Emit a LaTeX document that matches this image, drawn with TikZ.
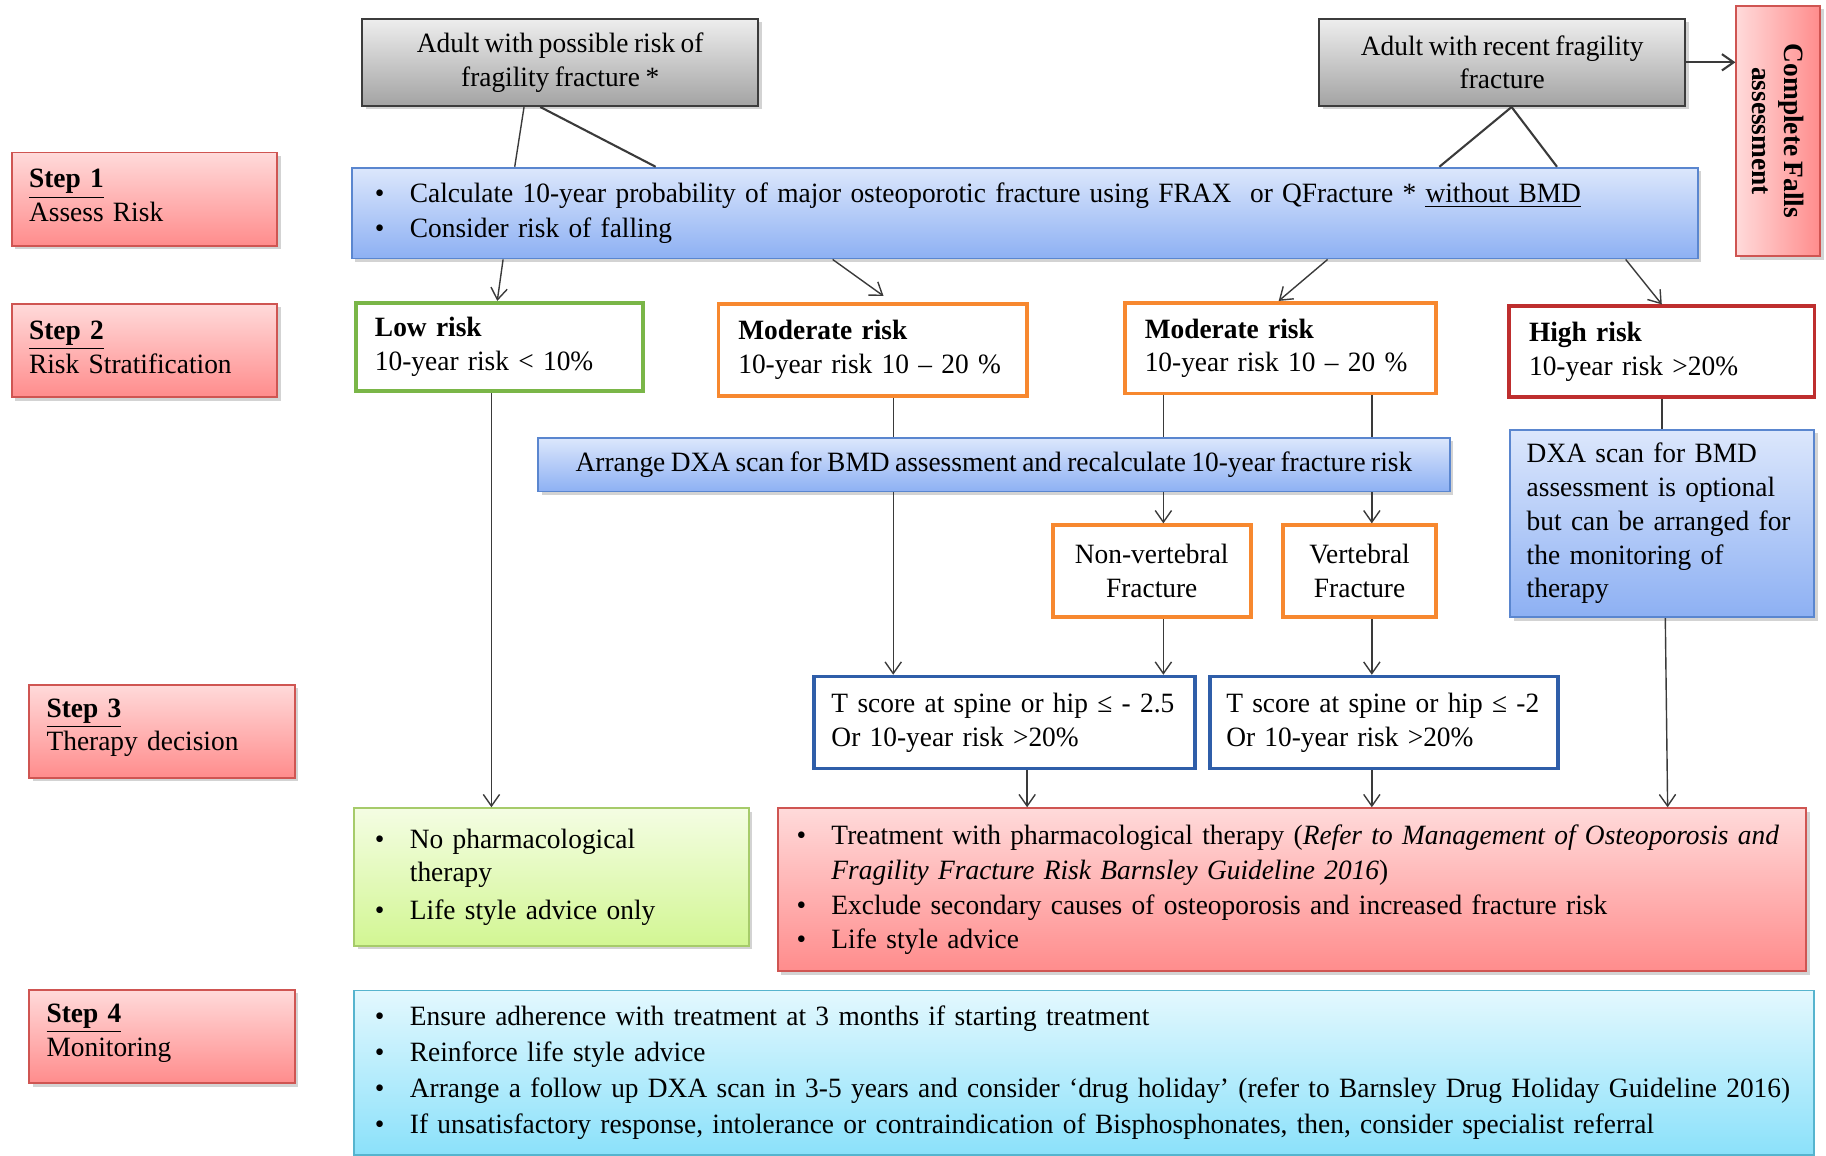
\documentclass[tikz,border=0pt]{standalone}
\usepackage{fontspec}
\setmainfont{Liberation Serif}[WordSpace=0.8,FakeStretch=0.98]
\usepackage{xcolor}
\usetikzlibrary{shadows,arrows.meta}

\definecolor{greytop}{HTML}{EEEEEE}
\definecolor{greybot}{HTML}{A3A3A3}
\definecolor{boxgrey}{HTML}{3C3C3C}
\definecolor{pinktop}{HTML}{FFDADA}
\definecolor{pinkbot}{HTML}{FF8C8C}
\definecolor{stepline}{HTML}{CF5552}
\definecolor{bluetop}{HTML}{DCE7FC}
\definecolor{bluebot}{HTML}{8DB0F3}
\definecolor{blueline}{HTML}{5A86CF}
\definecolor{greentop}{HTML}{F4FDE3}
\definecolor{greenbot}{HTML}{D2F693}
\definecolor{greenline}{HTML}{A6CB6A}
\definecolor{cyantop}{HTML}{E3F8FE}
\definecolor{cyanbot}{HTML}{8BE1FA}
\definecolor{cyanline}{HTML}{56B4CE}
\definecolor{lowgreen}{HTML}{7AB648}
\definecolor{modorange}{HTML}{F7882F}
\definecolor{highred}{HTML}{BE2E2E}
\definecolor{tblue}{HTML}{2F5EA9}
\definecolor{linkgrey}{HTML}{3A3A3A}

\newcommand{\bul}{\noindent\hangindent=15pt\hangafter=1\makebox[15pt][l]{\textbullet}}
\newcommand{\liftby}[1]{\par\vspace{#1}}

\begin{document}
\begin{tikzpicture}[x=0.5pt,y=-0.5pt,
  every node/.style={font=\fontsize{12}{14.5}\selectfont},
  lift/.style={execute at end node={\liftby{#1}}},
  soft/.style={drop shadow={shadow xshift=1.5pt,shadow yshift=-1.5pt,opacity=0.35}},
  greybox/.style={draw=boxgrey,line width=0.9pt,top color=greytop,bottom color=greybot,soft,align=center,minimum height=37.5pt},
  stepbox/.style={draw=stepline,line width=0.8pt,top color=pinktop,bottom color=pinkbot,soft,minimum width=114pt,minimum height=40pt,text width=99pt,inner xsep=7.5pt,align=left,lift=3pt},
  bluebox/.style={draw=blueline,line width=0.8pt,top color=bluetop,bottom color=bluebot,soft},
  riskbox/.style={draw=#1,line width=1.6pt,fill=white,minimum height=39pt,inner xsep=8.5pt,align=left},
  link/.style={draw=linkgrey,line width=0.6pt},
  arr/.style={link,-{Straight Barb[length=5pt,width=7pt]}}]
\useasboundingbox (0,0) rectangle (1568,992);

\node[greybox,minimum width=170pt] (adult) at (481,53.5) {Adult with possible risk of\\fragility fracture *};
\node[greybox,minimum width=157pt] (recent) at (1290,53.5) {Adult with recent fragility\\fracture};
\node[draw=stepline,line width=0.8pt,left color=pinktop,right color=pinkbot,soft,rotate=-90,
  minimum width=107.5pt,minimum height=36pt,align=center,
  font=\bfseries\fontsize{12}{13.5}\selectfont] (falls) at (1527,112.5) {Complete Falls\\assessment};

\node[stepbox] (step1) at (124,171) {\textbf{\underline{Step 1}}\\Assess Risk};
\node[stepbox] (step2) at (124,301) {\textbf{\underline{Step 2}}\\Risk Stratification};
\node[stepbox] (step3) at (139,628) {\textbf{\underline{Step 3}}\\Therapy decision};
\node[stepbox] (step4) at (139,890) {\textbf{\underline{Step 4}}\\Monitoring};

\node[bluebox,minimum height=39pt,text width=558pt,inner xsep=10pt,align=left,
  font=\fontsize{12}{15}\selectfont] (calc) at (880,183)
  {\bul Calculate 10-year probability of major osteoporotic fracture using FRAX\ \ or QFracture * \underline{without BMD}\par\bul Consider risk of falling};

\node[riskbox=lowgreen,minimum height=38pt,text width=107pt,inner xsep=8pt] (low) at (429,298) {\textbf{Low risk}\\10-year risk < 10\%};
\node[riskbox=modorange,minimum height=39.5pt,text width=115.5pt] (mod1) at (749.5,300.5) {\textbf{Moderate risk}\\10-year risk 10 – 20 \%};
\node[riskbox=modorange,text width=116.5pt] (mod2) at (1099.5,299) {\textbf{Moderate risk}\\10-year risk 10 – 20 \%};
\node[riskbox=highred,text width=114pt] (high) at (1427,302) {\textbf{High risk}\\10-year risk >20\%};

\node[bluebox,minimum width=391.5pt,minimum height=23pt] (dxa) at (853.5,399) {Arrange DXA scan for BMD assessment and recalculate 10-year fracture risk};
\node[bluebox,minimum height=80.5pt,text width=116.5pt,inner xsep=7pt,align=left] (dxaopt) at (1427.5,449.5)
  {DXA scan for BMD\\assessment is optional\\but can be arranged for\\the monitoring of\\therapy};

\node[riskbox=modorange,minimum width=85pt,minimum height=39.5pt,inner xsep=4pt,align=center] (nonvert) at (989,490.5) {Non-vertebral\\Fracture};
\node[riskbox=modorange,minimum width=65.5pt,minimum height=39.5pt,inner xsep=4pt,align=center] (vert) at (1167.5,490.5) {Vertebral\\Fracture};

\node[riskbox=tblue,minimum height=39.5pt,text width=148.5pt,inner xsep=7.5pt] (tone) at (862.5,620.5) {T score at spine or hip ≤ - 2.5\\Or 10-year risk >20\%};
\node[riskbox=tblue,minimum height=39.5pt,text width=135.5pt,inner xsep=7pt] (ttwo) at (1188.5,620.5) {T score at spine or hip ≤ -2\\Or 10-year risk >20\%};

\node[draw=greenline,line width=0.8pt,top color=greentop,bottom color=greenbot,soft,
  minimum height=59pt,text width=151.5pt,inner xsep=9pt,align=left,
  font=\fontsize{12}{14.5}\selectfont] (nopharm) at (473.5,753)
  {\bul No pharmacological\newline therapy\par\vspace{1.5pt}\bul Life style advice only};
\node[draw=stepline,line width=0.8pt,top color=pinktop,bottom color=pinkbot,soft,
  minimum height=70pt,text width=425.5pt,inner xsep=8pt,align=left,
  font=\fontsize{12}{15}\selectfont] (treat) at (1109.5,764)
  {\bul Treatment with pharmacological therapy (\textit{Refer to Management of Osteoporosis and\newline Fragility Fracture Risk Barnsley Guideline 2016})\par
   \bul Exclude secondary causes of osteoporosis and increased fracture risk\par
   \bul Life style advice};
\node[draw=cyanline,line width=0.8pt,top color=cyantop,bottom color=cyanbot,
  minimum height=70.5pt,text width=609pt,inner xsep=9pt,align=left,
  font=\fontsize{12}{15.5}\selectfont] (monitor) at (931,921)
  {\bul Ensure adherence with treatment at 3 months if starting treatment\par
   \bul Reinforce life style advice\par
   \bul Arrange a follow up DXA scan in 3-5 years and consider ‘drug holiday’ (refer to Barnsley Drug Holiday Guideline 2016)\par
   \bul If unsatisfactory response, intolerance or contraindication of Bisphosphonates, then, consider specialist referral};

\draw[link] (adult.south -| 450,0) -- (calc.north -| 442,0);
\draw[link,line width=0.9pt] (adult.south -| 464,0) -- (calc.north -| 563,0);
\draw[link,line width=0.9pt] (recent.south -| 1298,0) -- (calc.north -| 1236,0);
\draw[link,line width=0.9pt] (recent.south -| 1298,0) -- (calc.north -| 1337,0);
\draw[arr,line width=0.9pt] (recent.east) -- (recent.east -| falls.south);

\draw[arr] (calc.south -| 432,0) -- (low.north -| 427,0);
\draw[arr,shorten >=4.5pt] (calc.south -| 715,0) -- (mod1.north -| 766,0);
\draw[arr] (calc.south -| 1140,0) -- (mod2.north -| 1098,0);
\draw[arr] (calc.south -| 1396,0) -- (high.north -| 1427,0);

\draw[arr] (low.south -| 422,0) -- (nopharm.north -| 422,0);
\draw[link] (mod1.south -| 767,0) -- (dxa.north -| 767,0);
\draw[arr] (dxa.south -| 767,0) -- (tone.north -| 767,0);
\draw[link] (mod2.south -| 999,0) -- (dxa.north -| 999,0);
\draw[arr] (dxa.south -| 999,0) -- (nonvert.north -| 999,0);
\draw[link] (mod2.south -| 1178,0) -- (dxa.north -| 1178,0);
\draw[arr] (dxa.south -| 1178,0) -- (vert.north -| 1178,0);
\draw[link] (high.south -| 1427,0) -- (dxaopt.north -| 1427,0);

\draw[arr] (nonvert.south -| 999,0) -- (tone.north -| 999,0);
\draw[arr] (vert.south -| 1178,0) -- (ttwo.north -| 1178,0);
\draw[arr] (tone.south -| 882,0) -- (treat.north -| 882,0);
\draw[arr] (ttwo.south -| 1178,0) -- (treat.north -| 1178,0);
\draw[arr] (dxaopt.south -| 1430,0) -- (treat.north -| 1432,0);
\end{tikzpicture}
\end{document}
